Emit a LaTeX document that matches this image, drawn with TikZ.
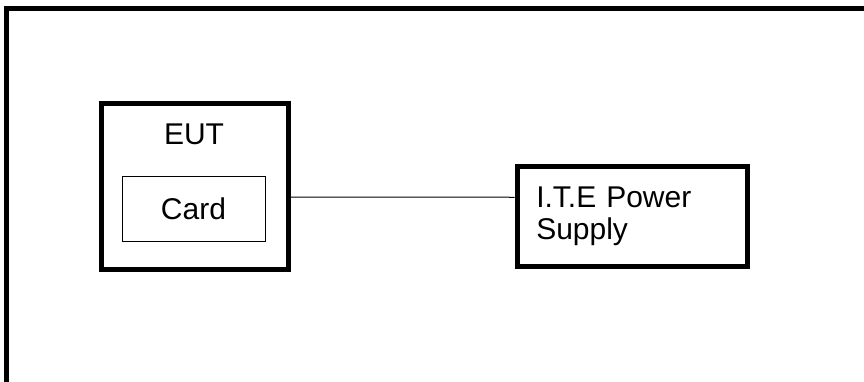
\documentclass[tikz,border=0pt]{standalone}
\usepackage{fontspec}
\setmainfont{Liberation Sans}
\usetikzlibrary{positioning}

\tikzset{
  heavybox/.style={draw,line width=5pt,rectangle},
  lightbox/.style={draw,line width=1pt,rectangle},
  lbl/.style={font=\fontsize{30}{32}\selectfont}
}

\begin{document}
\begin{tikzpicture}[x=1pt,y=-1pt]
  \useasboundingbox (0,0) rectangle (864,381);
  % outer frame, cut by the page edge
  \draw[line width=5pt] (6.5,395) -- (6.5,8.5) -- (880,8.5);

  % EUT with its card
  \node[heavybox,minimum width=186.5pt,minimum height=166pt] (eut) at (194.75,186) {};
  \node[lbl] (euttext) at (194,134) {EUT};
  \node[lightbox,lbl,minimum width=143pt,minimum height=65pt] (card) at (193.5,208.5) {Card};

  % power supply
  \node[heavybox,lbl,minimum width=230.5pt,minimum height=99.5pt,
        text width=192pt,inner xsep=19pt,align=left] (psu) at (632.25,216.25)
        {I.T.E Power\\Supply};

  % cable
  \draw[line width=1pt] ([yshift=-11pt]eut.east) -- ([yshift=19pt]psu.west);
\end{tikzpicture}
\end{document}
